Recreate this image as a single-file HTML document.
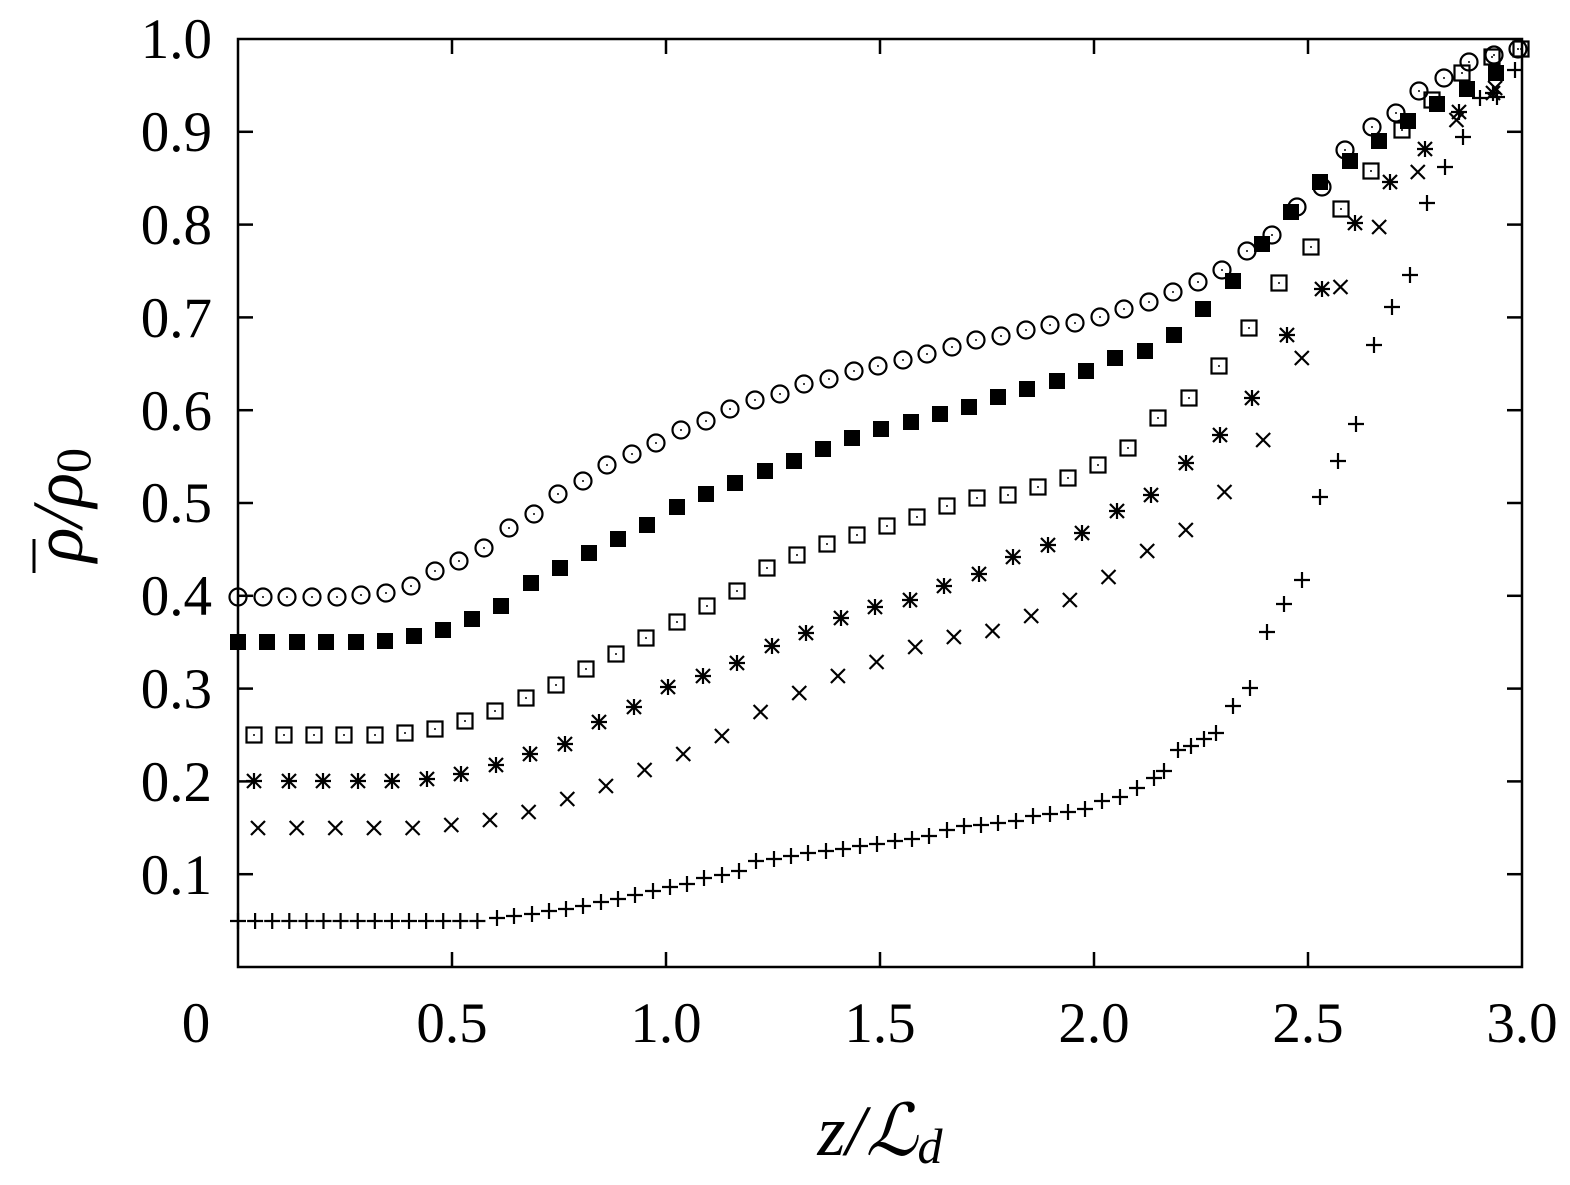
<!DOCTYPE html>
<html><head><meta charset="utf-8"><style>
html,body{margin:0;padding:0;background:#fff;}
svg{display:block;}
text{font-family:"Liberation Serif",serif;fill:#000;}
</style></head><body>
<svg id="s" width="1570" height="1185" viewBox="0 0 1570 1185" xmlns="http://www.w3.org/2000/svg">
<g id="ax" stroke="#000" stroke-width="2.5" fill="none">
<rect x="238" y="39" width="1284" height="928"/>
</g>
<g font-size="57" text-anchor="end" id="yl">
<text x="212" y="58">1.0</text><text x="212" y="151">0.9</text><text x="212" y="244">0.8</text>
<text x="212" y="337">0.7</text><text x="212" y="430">0.6</text><text x="212" y="522">0.5</text>
<text x="212" y="615">0.4</text><text x="212" y="708">0.3</text><text x="212" y="801">0.2</text>
<text x="212" y="894">0.1</text>
</g>
<g font-size="57" text-anchor="middle">
<text x="196" y="1042">0</text><text x="452" y="1042">0.5</text><text x="666" y="1042">1.0</text>
<text x="880" y="1042">1.5</text><text x="1094" y="1042">2.0</text><text x="1308" y="1042">2.5</text>
<text x="1522" y="1042">3.0</text>
</g>
<text x="880" y="1155" font-size="72" text-anchor="middle" font-style="italic">z/ℒ<tspan font-size="50" dy="8">d</tspan></text>
<g transform="translate(82,505) rotate(-90)">
<text x="0" y="0" font-size="72" text-anchor="middle" font-style="italic">ρ/ρ<tspan font-size="50" dy="8" font-style="normal">0</tspan></text>
<line x1="-68" y1="-48" x2="-34" y2="-48" stroke="#000" stroke-width="3"/>
</g>
<g id="m" stroke="#000" stroke-width="2.2"></g>
</svg>
<script>
var NS="http://www.w3.org/2000/svg",ax=document.getElementById('ax'),m=document.getElementById('m');
function el(p,t,a){var e=document.createElementNS(NS,t);for(var k in a)e.setAttribute(k,a[k]);p.appendChild(e);return e;}
for(var i=1;i<=9;i++){var y=967-92.8*i;el(ax,'line',{x1:238,y1:y,x2:253,y2:y});el(ax,'line',{x1:1522,y1:y,x2:1507,y2:y});}
for(var i=1;i<=5;i++){var x=238+214*i;el(ax,'line',{x1:x,y1:967,x2:x,y2:952});el(ax,'line',{x1:x,y1:39,x2:x,y2:54});}
function circ(x,y){el(m,'circle',{cx:x,cy:y,r:8.5,fill:'none'});el(m,'circle',{cx:x,cy:y,r:1,fill:'#000',stroke:'none'});}
function fsq(x,y){el(m,'rect',{x:x-8,y:y-8,width:16,height:16,fill:'#000',stroke:'none'});}
function osq(x,y){el(m,'rect',{x:x-7.5,y:y-7.5,width:15,height:15,fill:'none'});el(m,'circle',{cx:x,cy:y,r:1,fill:'#000',stroke:'none'});}
function pl(x,y){el(m,'path',{d:'M'+(x-8)+' '+y+'h16M'+x+' '+(y-8)+'v16',fill:'none'});}
function xx(x,y){el(m,'path',{d:'M'+(x-7)+' '+(y-7)+'l14 14M'+(x-7)+' '+(y+7)+'l14 -14',fill:'none'});}
function st(x,y){pl(x,y);xx(x,y);}
var C=[[238,597],[263,597],[287,597],[312,597],[337,597],[361,595],[386,593],[411,586],[435,571],[459,561],[484,548],[509,528],[534,514],[558,494],[583,481],[607,465],[632,454],[656,443],[681,430],[706,421],[730,409],[755,400],[780,394],[804,384],[829,379],[854,371],[878,366],[903,360],[927,354],[952,347],[976,340],[1001,336],[1026,330],[1050,325],[1075,323],[1100,317],[1124,309],[1149,302],[1173,292],[1198,282],[1222,270],[1247,251],[1272,235],[1297,207],[1322,187],[1345,150],[1372,127],[1396,113],[1419,91],[1444,78],[1469,62],[1494,55],[1518,49]];
C.forEach(function(p){circ(p[0],p[1]);});
var F=[[238,642],[267,642],[297,642],[326,642],[356,642],[385,641],[414,636],[443,630],[472,619],[501,606],[531,583],[560,568],[589,553],[618,539],[647,525],[677,507],[706,494],[735,483],[765,471],[794,461],[823,449],[852,438],[881,429],[911,422],[940,414],[969,407],[998,397],[1027,389],[1057,381],[1086,371],[1115,358],[1145,351],[1174,335],[1203,309],[1233,281],[1262,244],[1291,212],[1320,182],[1350,161],[1379,141],[1408,121],[1437,104],[1467,89],[1496,73]];
F.forEach(function(p){fsq(p[0],p[1]);});
var O=[[254,735],[284,735],[314,735],[344,735],[375,735],[405,733],[435,729],[465,721],[495,711],[526,698],[556,685],[586,669],[616,654],[646,638],[677,622],[707,606],[737,591],[767,568],[797,555],[827,544],[857,535],[887,526],[917,517],[947,506],[977,498],[1008,495],[1038,487],[1068,478],[1098,465],[1128,448],[1158,418],[1189,398],[1219,366],[1249,328],[1279,283],[1311,247],[1341,209],[1371,171],[1402,130],[1432,100],[1462,73],[1492,57],[1521,49]];
O.forEach(function(p){osq(p[0],p[1]);});
var S=[[254,781],[289,781],[323,781],[358,781],[392,781],[427,779],[461,774],[496,765],[530,754],[565,744],[599,722],[634,707],[668,687],[703,676],[737,663],[772,646],[806,633],[841,618],[875,607],[910,600],[944,586],[979,574],[1013,557],[1048,545],[1082,533],[1117,511],[1151,495],[1186,463],[1220,435],[1252,398],[1287,335],[1322,289],[1355,223],[1390,182],[1425,149],[1459,112],[1493,93]];
S.forEach(function(p){st(p[0],p[1]);});
var XY=[828,828,828,828,828,825,820,812,799,786,770,754,736,712,693,676,662,647,637,631,616,600,577,551,530,492,440,358,287,227,172,120,88];
XY.forEach(function(y,i){xx(258+i*38.66,y);});
var P=[];for(var i=0;i<15;i++)P.push([238+i*17.1,921]);
P=P.concat([[497,918],[514,916],[532,914],[549,911],[566,909],[583,906],[601,902],[618,899],[635,895],[653,891],[670,887],[687,884],[704,878],[722,875],[739,871],[756,861],[774,859],[791,856],[808,853],[826,851],[843,849],[860,846],[877,844],[895,841],[912,839],[929,836],[947,830],[964,826],[981,825],[998,823],[1016,821],[1033,816],[1050,814],[1068,812],[1085,809],[1102,801],[1120,797],[1137,788],[1154,778],[1164,771],[1178,750],[1191,746],[1204,739],[1216,733],[1233,706],[1250,688],[1267,632],[1284,604],[1302,580],[1320,497],[1338,461],[1356,424],[1374,345],[1392,307],[1410,275],[1427,203],[1445,167],[1463,137],[1480,98],[1497,97],[1515,70]]);
P.forEach(function(p){pl(p[0],p[1]);});
</script>
</body></html>
